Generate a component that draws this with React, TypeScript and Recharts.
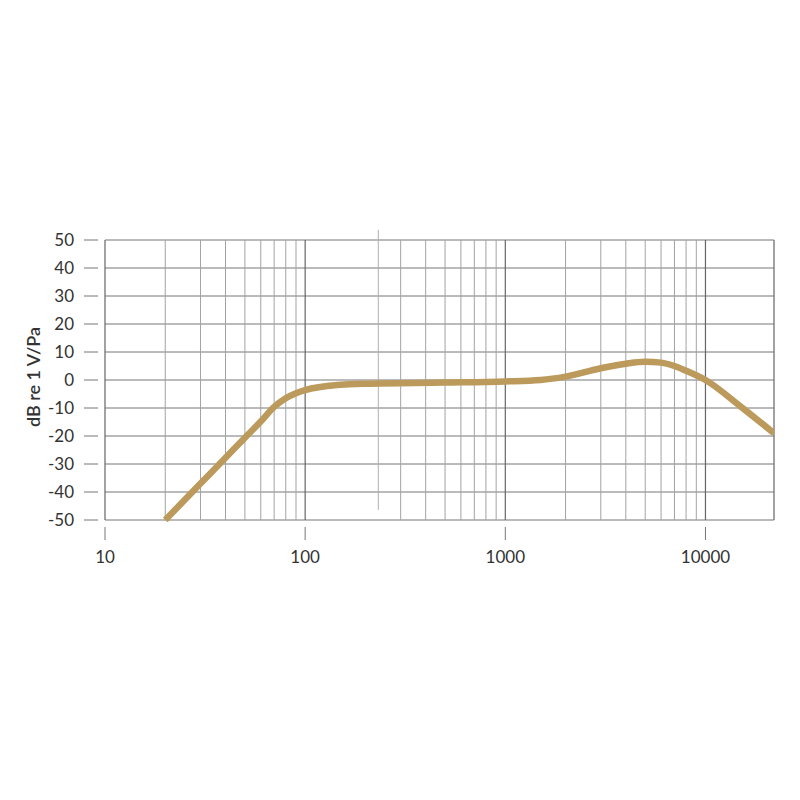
import React from "react";
import {
  LineChart,
  Line,
  XAxis,
  YAxis,
  CartesianGrid,
  ReferenceLine,
} from "recharts";

// frequency response
const freqs = [20, 30, 40, 50, 60, 70, 80, 90, 100, 150, 200, 500, 1000, 1500, 2000, 3000, 4000, 5000, 6000, 7000, 8000, 10000, 15000, 22000];
const levels = [-50, -37, -27.8, -20.6, -14.8, -9.6, -6.5, -4.7, -3.6, -1.7, -1.3, -0.9, -0.5, 0, 1.2, 4.2, 5.8, 6.5, 6.2, 5, 3.3, 0, -9.5, -19];

const xTicks = [10, 100, 1000, 10000];
const yTicks = [50, 40, 30, 20, 10, 0, -10, -20, -30, -40, -50];
const decadeLines = [10, 100, 1000, 10000, 22000];
const minorLines = [20, 30, 40, 50, 60, 70, 80, 90, 300, 400, 500, 600, 700, 800, 900, 2000, 3000, 4000, 5000, 6000, 7000, 8000, 9000];
// stray line in the scan, sits where 200 should be
const strayLine = { f: 232, top: 53.6, bottom: -46.4 };

const data = freqs.map((f, i) => ({ f, db: levels[i] }));

const font = "Lato, 'Noto Sans', sans-serif";

const YTick = (props: any) => {
  const { x, y, payload } = props;
  return (
    <g>
      <line x1={x - 21} x2={x - 7} y1={y} y2={y} stroke="#777" strokeWidth={1} />
      <text x={x - 31} y={y + 6} textAnchor="end" fontSize={17} fill="#333" fontFamily={font}>
        {payload.value}
      </text>
    </g>
  );
};

const XTick = (props: any) => {
  const { x, y, payload } = props;
  return (
    <g>
      <line x1={x} x2={x} y1={y + 7} y2={y + 20} stroke="#777" strokeWidth={1} />
      <text x={x} y={y + 43} textAnchor="middle" fontSize={17} fill="#333" fontFamily={font}>
        {payload.value}
      </text>
    </g>
  );
};

export default function App() {
  return (
    <div style={{ position: "absolute", left: 0, top: 0, width: 800, height: 800, background: "#fff" }}>
      <LineChart
        width={800}
        height={800}
        data={data}
        margin={{ top: 240, right: 26, bottom: 0, left: 0 }}
      >
        <CartesianGrid vertical={false} stroke="#777" strokeWidth={1} />
        <XAxis
          dataKey="f"
          type="number"
          scale="log"
          domain={[10, 22000]}
          ticks={xTicks}
          allowDataOverflow
          axisLine={false}
          tickLine={false}
          tickSize={0}
          tickMargin={0}
          tick={<XTick />}
          height={280}
        />
        <YAxis
          type="number"
          domain={[-50, 50]}
          ticks={yTicks}
          axisLine={false}
          tickLine={false}
          tickSize={0}
          tickMargin={0}
          width={105}
          tick={<YTick />}
          label={{
            value: "dB re 1 V/Pa",
            content: () => (
              <text
                x={40}
                y={377}
                transform="rotate(-90 40 377)"
                textAnchor="middle"
                fontSize={18}
                fontWeight={600}
                fill="#333"
                fontFamily={font}
              >
                dB re 1 V/Pa
              </text>
            ),
          }}
        />
        {minorLines.map((f) => (
          <ReferenceLine key={"m" + f} x={f} stroke="#a3a3a3" strokeWidth={1} />
        ))}
        <ReferenceLine
          segment={[
            { x: strayLine.f, y: strayLine.top },
            { x: strayLine.f, y: strayLine.bottom },
          ]}
          stroke="#b0b0b0"
          strokeWidth={1}
          ifOverflow="visible"
        />
        {decadeLines.map((f) => (
          <ReferenceLine key={"d" + f} x={f} stroke="#666" strokeWidth={1.2} />
        ))}
        <Line
          type="monotone"
          dataKey="db"
          stroke="#bb9a5c"
          strokeWidth={6.5}
          dot={false}
          isAnimationActive={false}
        />
      </LineChart>
    </div>
  );
}
